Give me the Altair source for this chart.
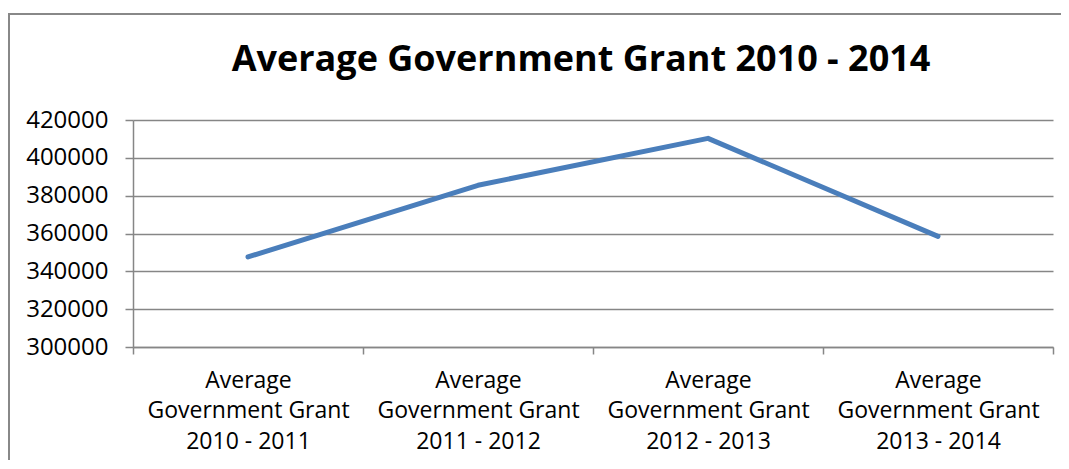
import altair as alt
import pandas as pd

# ---- data ----
categories = [
    "Average Government Grant 2010 - 2011",
    "Average Government Grant 2011 - 2012",
    "Average Government Grant 2012 - 2013",
    "Average Government Grant 2013 - 2014",
]
values = [347600, 385500, 410300, 358500]
y_ticks = [300000, 320000, 340000, 360000, 380000, 400000, 420000]
title_text = "Average Government Grant 2010 - 2014"

df = pd.DataFrame({"period": categories, "grant": values})

FONT = "Open Sans"
GRID = "#868686"
LINE = "#4A7EBB"

x_enc = alt.X(
    "period:N",
    sort=categories,
    title=None,
    bandPosition=0.5,
    scale=alt.Scale(type="band", paddingInner=0, paddingOuter=0),
    axis=alt.Axis(
        tickBand="extent",
        labelAngle=0,
        labelExpr="length(datum.label) > 25 ? ['Average', 'Government Grant', slice(datum.label, 25)] : ''",
        labelFont=FONT,
        labelFontSize=23,
        labelColor="black",
        labelLineHeight=30.5,
        labelPadding=15,
        labelLimit=400,
        labelOverlap=False,
        labelBaseline="top",
        tickSize=7,
        tickColor=GRID,
        tickWidth=1.5,
        domainColor=GRID,
        domainWidth=1.5,
        grid=False,
    ),
)

y_enc = alt.Y(
    "grant:Q",
    title=None,
    scale=alt.Scale(domain=[300000, 420000], nice=False, zero=False),
    axis=alt.Axis(
        values=y_ticks,
        format="d",
        grid=True,
        gridColor=GRID,
        gridWidth=1.5,
        tickSize=8,
        tickColor=GRID,
        tickWidth=1.5,
        domainColor=GRID,
        domainWidth=1.5,
        labelFont=FONT,
        labelFontSize=24,
        labelColor="black",
        labelPadding=17,
    ),
)

line = alt.Chart(df).mark_line(
    color=LINE, strokeWidth=5, strokeCap="round", strokeJoin="round"
).encode(x=x_enc, y=y_enc)

# outer chart frame: top edge and left edge (right/bottom lie outside the picture)
frame_src = pd.DataFrame({"k": [0]})
border_top = alt.Chart(frame_src).mark_rule(
    stroke="#888888", strokeWidth=2, clip=False
).encode(x=alt.value(-125), x2=alt.value(929), y=alt.value(-106))
border_left = alt.Chart(frame_src).mark_rule(
    stroke="#888888", strokeWidth=2, clip=False
).encode(x=alt.value(-124), y=alt.value(-107), y2=alt.value(345))

chart = (
    alt.layer(border_top, border_left, line)
    .properties(
        width=920,
        height=227,
        padding={"left": 125, "top": 112, "right": 8, "bottom": 113},
        autosize=alt.AutoSizeParams(type="none"),
        title=alt.TitleParams(
            text=title_text,
            font=FONT,
            fontSize=36,
            fontWeight="bold",
            color="black",
            anchor="middle",
            dx=-12,
            offset=-95,
            baseline="alphabetic",
        ),
    )
    .configure_view(strokeWidth=0)
)

chart.save("out.html", embed_options={"renderer": "svg", "actions": False})
